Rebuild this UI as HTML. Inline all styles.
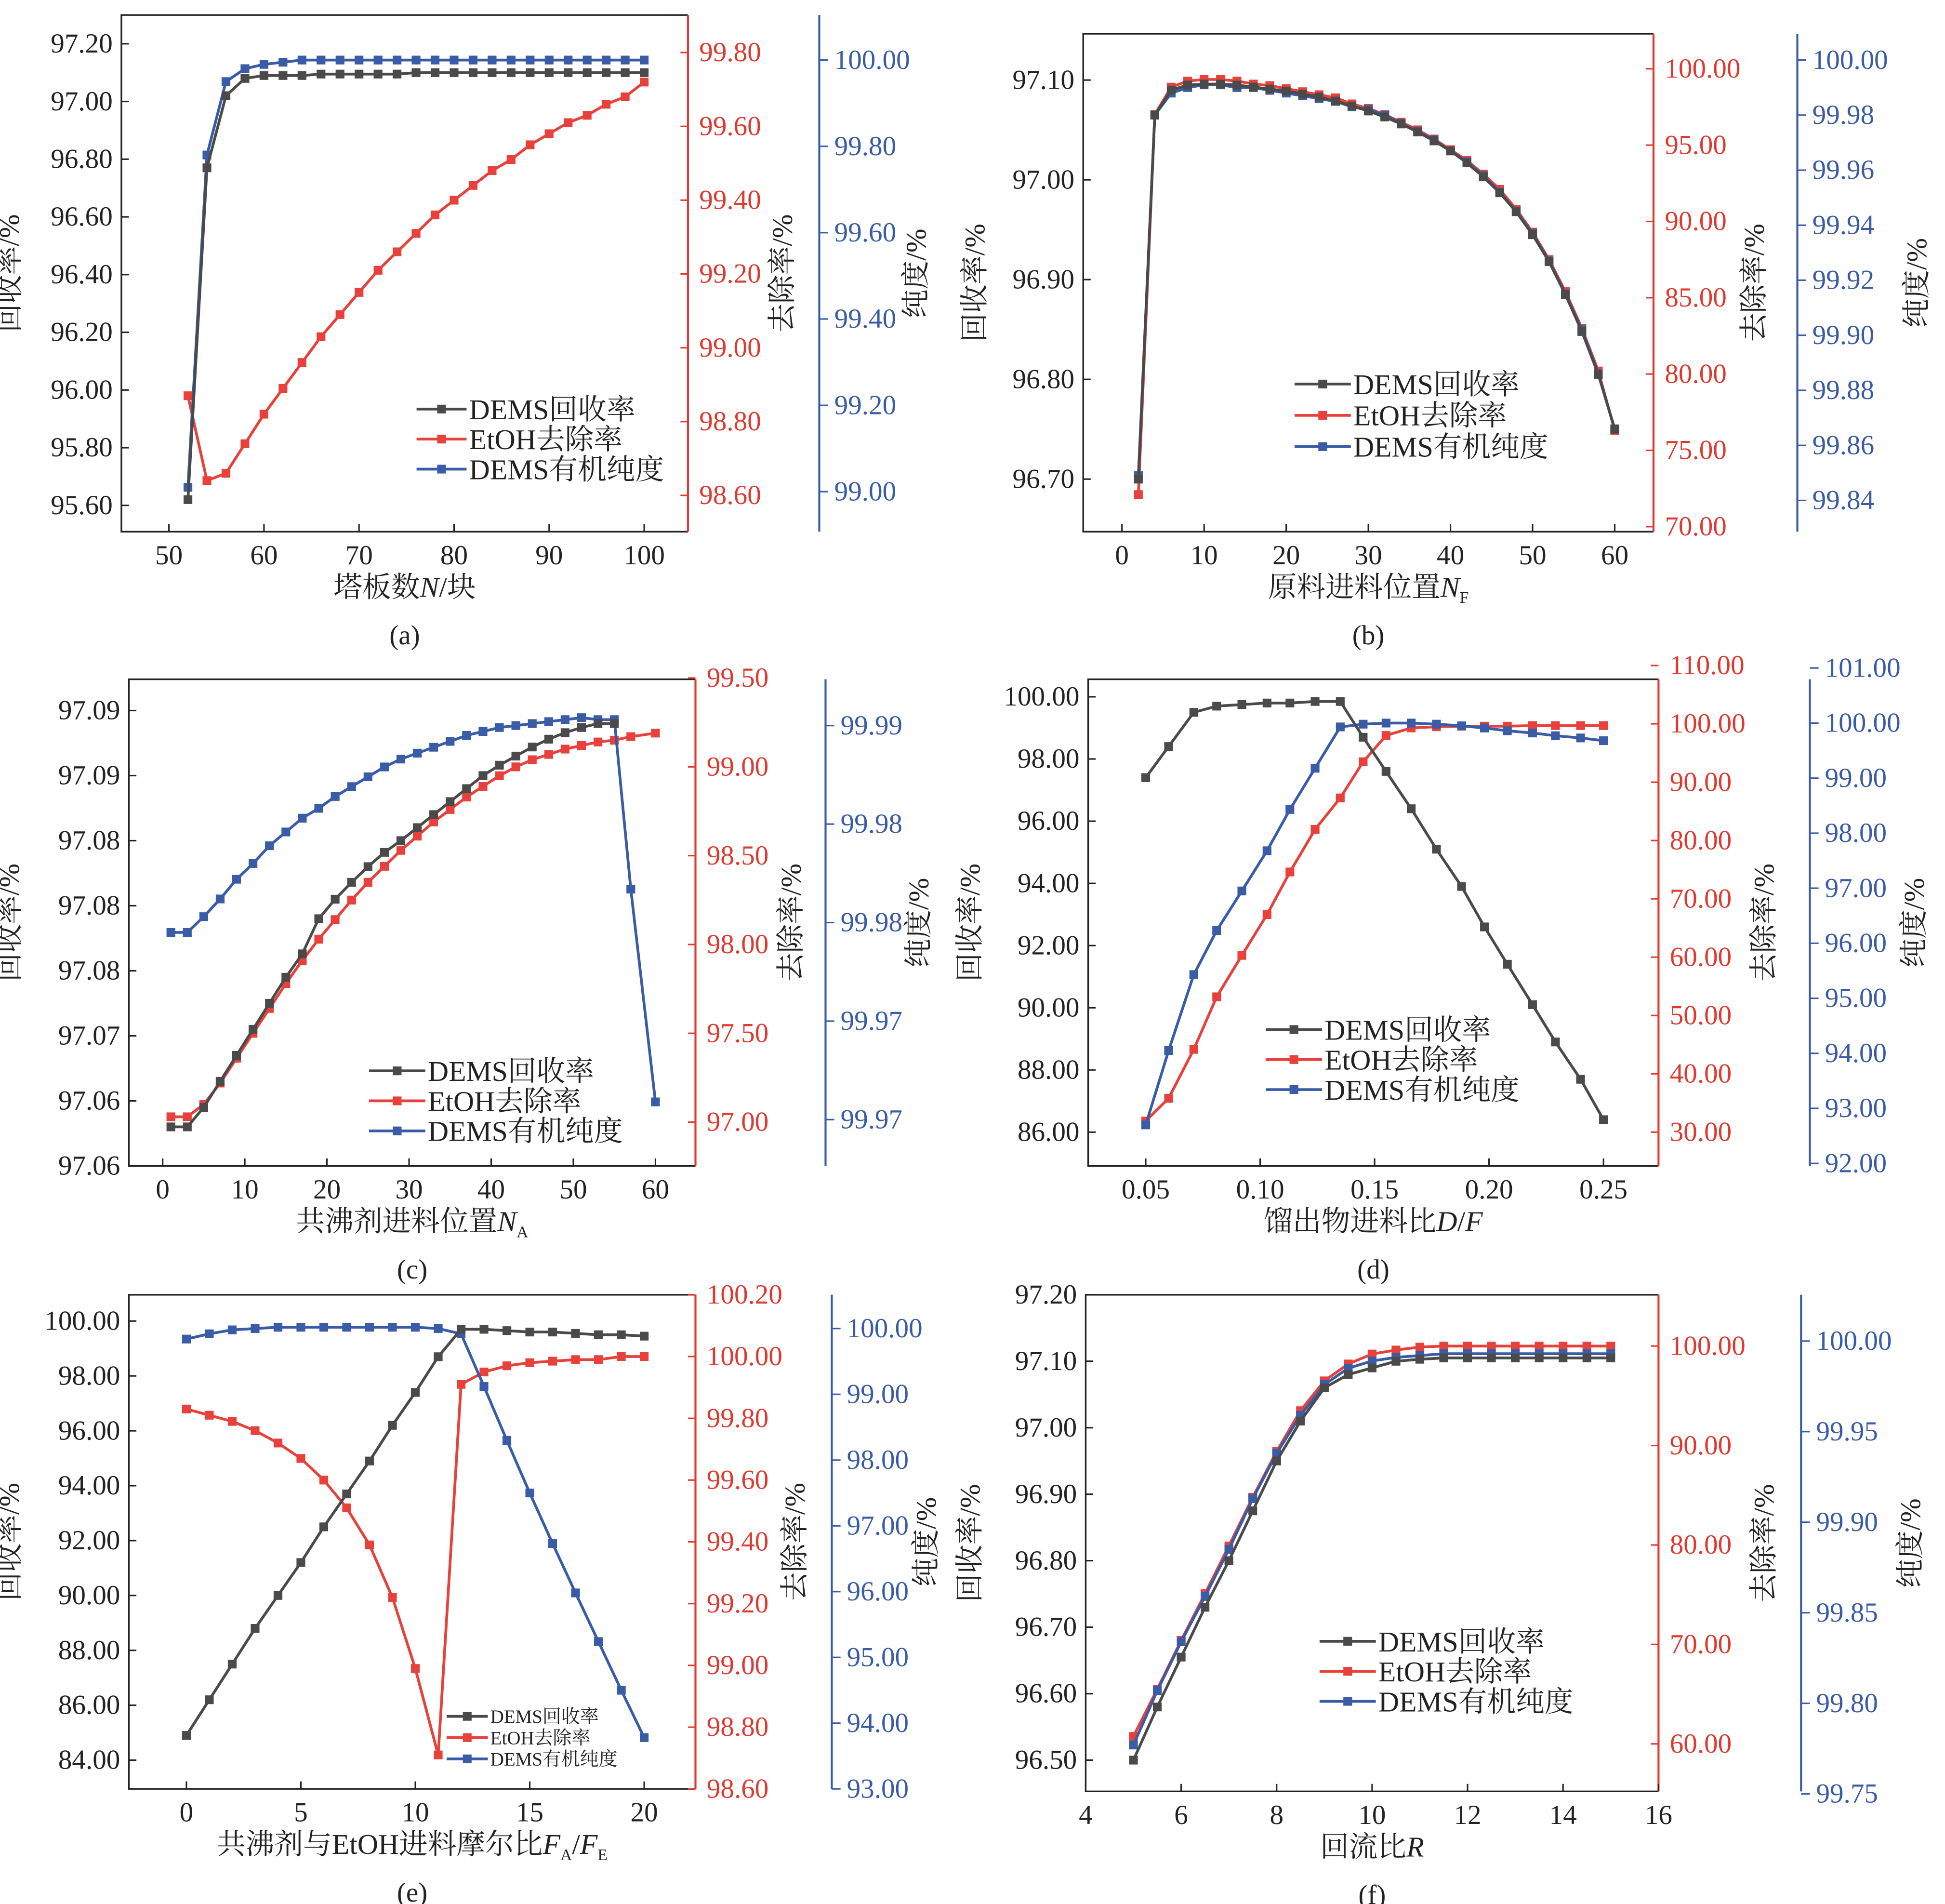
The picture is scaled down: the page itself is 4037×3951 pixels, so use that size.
<!DOCTYPE html>
<html><head><meta charset="utf-8">
<style>
html,body{margin:0;padding:0;background:#fff;}
svg{display:block;}
text{font-family:"Liberation Serif","Noto Serif CJK SC","Noto Sans CJK SC",serif;}
</style></head>
<body>
<svg id="chart" width="4037" height="3951" viewBox="0 0 1555 1522" xmlns="http://www.w3.org/2000/svg"></svg>
<script>
// ===== Data =====
// (a)
const aN = [52,54,56,58,60,62,64,66,68,70,72,74,76,78,80,82,84,86,88,90,92,94,96,98,100];
const aRec = [95.62,96.77,97.02,97.08,97.09,97.09,97.09,97.095,97.095,97.095,97.095,97.095,97.1,97.1,97.1,97.1,97.1,97.1,97.1,97.1,97.1,97.1,97.1,97.1,97.1];
const aRem = [98.87,98.64,98.66,98.74,98.82,98.89,98.96,99.03,99.09,99.15,99.21,99.26,99.31,99.36,99.40,99.44,99.48,99.51,99.55,99.58,99.61,99.63,99.66,99.68,99.72];
const aPur = [99.01,99.78,99.95,99.98,99.99,99.995,100.0,100.0,100.0,100.0,100.0,100.0,100.0,100.0,100.0,100.0,100.0,100.0,100.0,100.0,100.0,100.0,100.0,100.0,100.0];
// (b)
const bNF = [2,4,6,8,10,12,14,16,18,20,22,24,26,28,30,32,34,36,38,40,42,44,46,48,50,52,54,56,58,60];
const bRec = [96.70,97.065,97.09,97.095,97.096,97.096,97.095,97.093,97.091,97.089,97.086,97.083,97.079,97.074,97.069,97.063,97.056,97.048,97.039,97.029,97.017,97.003,96.987,96.968,96.945,96.918,96.885,96.848,96.805,96.75];
const bRem = [72.1,97.0,98.8,99.2,99.3,99.3,99.2,99.0,98.9,98.7,98.5,98.3,98.1,97.7,97.4,97.0,96.5,96.0,95.4,94.7,94.0,93.1,92.1,90.8,89.3,87.5,85.4,83.0,80.2,76.3];
const bPur = [99.849,99.980,99.988,99.990,99.991,99.991,99.990,99.990,99.989,99.988,99.987,99.986,99.985,99.983,99.982,99.980,99.977,99.974,99.971,99.967,99.963,99.958,99.952,99.945,99.937,99.927,99.915,99.902,99.886,99.866];
// (c)
const cNA = [1,3,5,7,9,11,13,15,17,19,21,23,25,27,29,31,33,35,37,39,41,43,45,47,49,51,53,55,57,60];
const cRec = [97.063,97.063,97.0645,97.0665,97.0685,97.0705,97.0725,97.0745,97.0763,97.0790,97.0805,97.0818,97.0830,97.0841,97.0850,97.0860,97.0870,97.0880,97.0890,97.0900,97.0908,97.0915,97.0922,97.0928,97.0933,97.0937,97.0940,97.0940];
const cRem = [97.03,97.03,97.10,97.22,97.36,97.50,97.64,97.78,97.91,98.03,98.14,98.25,98.35,98.44,98.53,98.61,98.69,98.76,98.83,98.89,98.95,99.00,99.04,99.07,99.10,99.12,99.14,99.15,99.17,99.19];
const cPur = [99.9795,99.9795,99.9803,99.9812,99.9822,99.9830,99.9839,99.9846,99.9853,99.9858,99.9864,99.9869,99.9874,99.9879,99.9883,99.9886,99.9889,99.9892,99.9895,99.9897,99.9899,99.9900,99.9901,99.9902,99.9903,99.9904,99.9903,99.9903,99.9817,99.9709];
// (d)
const dDF = [0.050,0.060,0.071,0.081,0.092,0.103,0.113,0.124,0.135,0.145,0.155,0.166,0.177,0.188,0.198,0.208,0.219,0.229,0.240,0.250];
const dRec = [97.4,98.4,99.5,99.7,99.75,99.8,99.8,99.85,99.85,98.7,97.6,96.4,95.1,93.9,92.6,91.4,90.1,88.9,87.7,86.4];
const dRem = [31.9,35.8,44.2,53.2,60.3,67.3,74.6,81.9,87.3,93.5,98.0,99.3,99.5,99.6,99.6,99.6,99.7,99.7,99.7,99.7];
const dPur = [92.7,94.05,95.43,96.23,96.95,97.68,98.43,99.18,99.93,99.98,100.0,100.0,99.98,99.95,99.91,99.86,99.82,99.77,99.73,99.68];
// (e)
const eFA = [0,1,2,3,4,5,6,7,8,9,10,11,12,13,14,15,16,17,18,19,20];
const eRec = [84.9,86.2,87.5,88.8,90.0,91.2,92.5,93.7,94.9,96.2,97.4,98.7,99.7,99.7,99.65,99.6,99.6,99.55,99.5,99.5,99.45];
const eRem = [99.83,99.81,99.79,99.76,99.72,99.67,99.60,99.51,99.39,99.22,98.99,98.71,99.91,99.95,99.97,99.98,99.985,99.99,99.99,100.0,100.0];
const ePur = [99.84,99.92,99.98,100.0,100.02,100.02,100.02,100.02,100.02,100.02,100.02,100.0,99.92,99.12,98.30,97.50,96.73,95.98,95.24,94.50,93.78];
// (f)
const fR = [5,5.5,6,6.5,7,7.5,8,8.5,9,9.5,10,10.5,11,11.5,12,12.5,13,13.5,14,14.5,15];
const fRec = [96.50,96.58,96.655,96.73,96.80,96.875,96.95,97.01,97.06,97.08,97.09,97.10,97.103,97.105,97.105,97.105,97.105,97.105,97.105,97.105,97.105];
const fRem = [60.75,65.5,70.4,75.1,79.9,84.8,89.4,93.5,96.5,98.2,99.2,99.6,99.9,100.0,100.0,100.0,100.0,100.0,100.0,100.0,100.0];
const fPur = [99.777,99.807,99.834,99.859,99.885,99.913,99.938,99.959,99.976,99.985,99.989,99.991,99.992,99.993,99.993,99.993,99.993,99.993,99.993,99.993,99.993];

// tick arrays
const aXT=[50,60,70,80,90,100], aLT=[95.6,95.8,96.0,96.2,96.4,96.6,96.8,97.0,97.2], aRT=[98.6,98.8,99.0,99.2,99.4,99.6,99.8], aBT=[99.0,99.2,99.4,99.6,99.8,100.0];
const bXT=[0,10,20,30,40,50,60], bLT=[96.7,96.8,96.9,97.0,97.1], bRT=[70,75,80,85,90,95,100], bBT=[99.84,99.86,99.88,99.90,99.92,99.94,99.96,99.98,100.0];
const cXT=[0,10,20,30,40,50,60], cLT=[97.060,97.065,97.070,97.075,97.080,97.085,97.090,97.095], cRT=[97.0,97.5,98.0,98.5,99.0,99.5], cBT=[99.970,99.975,99.980,99.985,99.990];
const dXT=[0.05,0.10,0.15,0.20,0.25], dLT=[86,88,90,92,94,96,98,100], dRT=[30,40,50,60,70,80,90,100,110], dBT=[92,93,94,95,96,97,98,99,100,101];
const eXT=[0,5,10,15,20], eLT=[84,86,88,90,92,94,96,98,100], eRT=[98.6,98.8,99.0,99.2,99.4,99.6,99.8,100.0,100.2], eBT=[93,94,95,96,97,98,99,100];
const fXT=[4,6,8,10,12,14,16], fLT=[96.5,96.6,96.7,96.8,96.9,97.0,97.1,97.2], fRT=[60,70,80,90,100], fBT=[99.75,99.80,99.85,99.90,99.95,100.0];

const NS="http://www.w3.org/2000/svg";
const svg=document.getElementById('chart');
const GREY="#4a4a4a", RED="#e8413b", BLUE="#3a5ba6", RAX="#e0392f", BAX="#3a5ca8";
function el(tag,attrs,parent){const e=document.createElementNS(NS,tag);for(const k in attrs)e.setAttribute(k,attrs[k]);(parent||svg).appendChild(e);return e;}
function lin(v0,p0,v1,p1){return v=>p0+(v-v0)*(p1-p0)/(v1-v0);}
function fmt(v,d){return v.toFixed(d);}

function panel(c){
  const g=el('g',{});
  
  
  const X=lin(c.xm[0],c.xm[1],c.xm[2],c.xm[3]);
  const L=lin(c.lm[0],c.lm[1],c.lm[2],c.lm[3]);
  const R=lin(c.rm[0],c.rm[1],c.rm[2],c.rm[3]);
  const B=lin(c.bm[0],c.bm[1],c.bm[2],c.bm[3]);
  const [x0,y0,x1,y1]=c.box;
  const bx=el('path',{d:`M${x1},${y0}H${x0}V${y1}H${x1}`,fill:'none',stroke:'#222','stroke-width':1.3},g);
  
  
  const ra=el('line',{x1:x1,y1:y0,x2:x1,y2:y1,stroke:RAX,'stroke-width':1.6},g);
  
  
  const ba=el('line',{x1:c.bx,y1:y0,x2:c.bx,y2:y1,stroke:BAX,'stroke-width':1.6},g);
  
  
  c.xt.forEach(v=>{const x=X(v);
    el('line',{x1:x,y1:y1,x2:x,y2:y1-6,stroke:'#222','stroke-width':1.2},g);
    const t=el('text',{x:x,y:y1+26,'text-anchor':'middle','font-size':22,fill:'#222'},g);
    t.textContent=fmt(v,c.xd);
    
    
  });
  c.lt.forEach(v=>{const y=L(v);
    el('line',{x1:x0,y1:y,x2:x0+6,y2:y,stroke:'#222','stroke-width':1.2},g);
    const t=el('text',{x:x0-7,y:y+7,'text-anchor':'end','font-size':22,fill:'#222'},g);
    t.textContent=fmt(v,2);
    
    
  });
  c.rt.forEach(v=>{const y=R(v);
    el('line',{x1:x1,y1:y,x2:x1-6,y2:y,stroke:RAX,'stroke-width':1.2},g);
    const t=el('text',{x:x1+9,y:y+7,'text-anchor':'start','font-size':22,fill:RAX},g);
    t.textContent=fmt(v,2);
    
    
  });
  c.bt.forEach(v=>{const y=B(v);
    el('line',{x1:c.bx,y1:y,x2:c.bx+7,y2:y,stroke:BAX,'stroke-width':1.2},g);
    const t=el('text',{x:c.bx+12,y:y+7,'text-anchor':'start','font-size':22,fill:BAX},g);
    t.textContent=fmt(v,2);
    
    
  });
  const cy=(y0+y1)/2;
  [[c.tl[0],'回收率/%','left-axis-title'],[c.tl[1],'去除率/%','removal-axis-title'],[c.tl[2],'纯度/%','purity-axis-title']].forEach(([x,s,n])=>{
    const t=el('text',{x:x,y:cy,'text-anchor':'middle','font-size':23,fill:'#222',transform:`rotate(-90 ${x} ${cy})`},g);
    t.textContent=s;
    
    
  });
  const xt=el('text',{x:(x0+x1)/2,y:y1+52,'text-anchor':'middle','font-size':23,fill:'#222'},g);
  xt.innerHTML=c.xlabel;
  
  
  const cap=el('text',{x:(x0+x1)/2,y:y1+90,'text-anchor':'middle','font-size':22,fill:'#222'},g);
  cap.textContent='('+c.id+')';
  
  
  const series=[[c.xs,c.rem,R,RED,'removal'],[c.xs,c.pur,B,BLUE,'purity'],[c.xs,c.rec,L,GREY,'recovery']];
  series.forEach(([xs,ys,S,col,nm])=>{
    const pts=ys.map((v,i)=>[X(xs[i]),S(v)]);
    const pl=el('polyline',{points:pts.map(p=>p.join(',')).join(' '),fill:'none',stroke:col,'stroke-width':2.2},g);
    
    
    pts.forEach(p=>{
      const r=el('rect',{x:p[0]-3.5,y:p[1]-3.5,width:7,height:7,fill:col},g);
      
      
    });
  });
  const [lx,ly,ll,lf,ls]=c.leg;
  [['DEMS回收率',GREY],['EtOH去除率',RED],['DEMS有机纯度',BLUE]].forEach(([s,col],i)=>{
    const y=ly+i*ls;
    const ln=el('line',{x1:lx,y1:y,x2:lx+ll,y2:y,stroke:col,'stroke-width':2.2},g);
    
    
    el('rect',{x:lx+ll/2-3.5,y:y-3.5,width:7,height:7,fill:col},g);
    const t=el('text',{x:lx+ll+2,y:y+lf*0.35,'font-size':lf,fill:'#222'},g);
    t.textContent=s;
    
    
  });
}

panel({id:'a',box:[97,12,550,425],bx:655,xm:[50,135,100,515],xd:0,
  lm:[95.6,404,97.2,35],rm:[98.6,396,99.8,42],bm:[99.0,393,100.0,48],
  xt:aXT,lt:aLT,rt:aRT,bt:aBT,xs:aN,rec:aRec,rem:aRem,pur:aPur,
  tl:[15,633,740],xlabel:'塔板数<tspan font-style="italic">N</tspan>/块',leg:[333,327,40,23,24]});
panel({id:'b',box:[866,27,1322,425],bx:1437,xm:[0,897,60,1291],xd:0,
  lm:[96.7,383,97.1,64],rm:[70,421,100,55],bm:[99.84,400,100.0,48],
  xt:bXT,lt:bLT,rt:bRT,bt:bBT,xs:bNF,rec:bRec,rem:bRem,pur:bPur,
  tl:[787,1410,1540],xlabel:'原料进料位置<tspan font-style="italic">N</tspan><tspan font-size="13" dy="5">F</tspan>',leg:[1035,307,45,23,25]});
panel({id:'c',box:[103,543,556,932],bx:660,xm:[0,130,60,524],xd:0,
  lm:[97.06,932,97.095,568],rm:[97.0,897,99.5,542],bm:[99.97,895,99.99,580],
  xt:cXT,lt:cLT,rt:cRT,bt:cBT,xs:cNA,rec:cRec,rem:cRem,pur:cPur,
  tl:[15,640,742],xlabel:'共沸剂进料位置<tspan font-style="italic">N</tspan><tspan font-size="13" dy="5">A</tspan>',leg:[295,856,45,23,24]});
panel({id:'d',box:[870,543,1326,932],bx:1447,xm:[0.05,916,0.25,1282],xd:2,
  lm:[86,905,100,557],rm:[30,905,110,532],bm:[92,930,101,534],
  xt:dXT,lt:dLT,rt:dRT,bt:dBT,xs:dDF,rec:dRec,rem:dRem,pur:dPur,
  tl:[783,1418,1538],xlabel:'馏出物进料比<tspan font-style="italic">D</tspan>/<tspan font-style="italic">F</tspan>',leg:[1012,823,45,23,24]});
panel({id:'e',box:[103,1035,556,1430],bx:665,xm:[0,149,20,515],xd:0,
  lm:[84,1407,100,1056],rm:[98.6,1430,100.2,1035],bm:[93,1430,100,1062],
  xt:eXT,lt:eLT,rt:eRT,bt:eBT,xs:eFA,rec:eRec,rem:eRem,pur:ePur,
  tl:[15,643,748],xlabel:'共沸剂与EtOH进料摩尔比<tspan font-style="italic">F</tspan><tspan font-size="13" dy="5">A</tspan><tspan dy="-5">/</tspan><tspan font-style="italic">F</tspan><tspan font-size="13" dy="5">E</tspan>',leg:[357,1372,33,15,17]});
panel({id:'f',box:[868,1035,1326,1432],bx:1440,xm:[4,868,16,1326],xd:0,
  lm:[96.5,1407,97.2,1035],rm:[60,1394,100,1076],bm:[99.75,1434,100.0,1072],
  xt:fXT,lt:fLT,rt:fRT,bt:fBT,xs:fR,rec:fRec,rem:fRem,pur:fPur,
  tl:[783,1418,1535],xlabel:'回流比<tspan font-style="italic">R</tspan>',leg:[1055,1312,45,23,24]});
</script>
</body></html>
